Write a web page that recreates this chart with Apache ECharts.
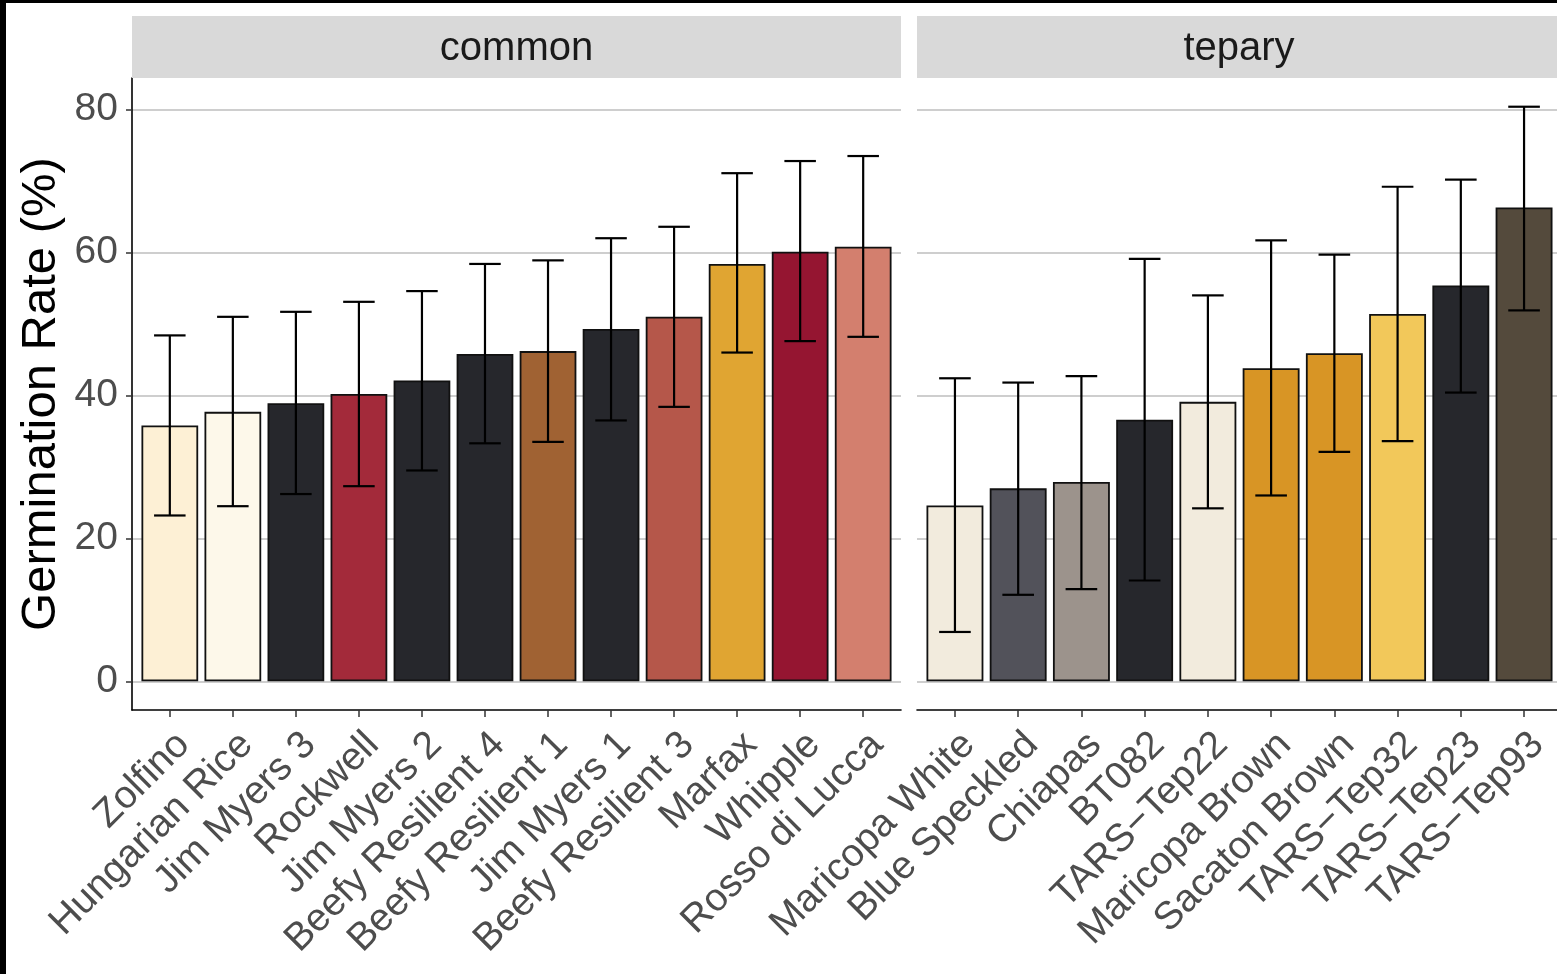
<!DOCTYPE html>
<html>
<head>
<meta charset="utf-8">
<title>Germination Rate by Variety</title>
<script src="https://cdn.jsdelivr.net/npm/echarts@6.0.0/dist/echarts.min.js"></script>
<style>
  html, body { margin: 0; padding: 0; background: #ffffff; }
  #chart { width: 1557px; height: 974px; }
</style>
</head>
<body>
<div id="chart"></div>
<script>
// ---- Data: germination rate (%) with error bar bounds, per bean species ----
const commonVarieties = ['Zolfino', 'Hungarian Rice', 'Jim Myers 3', 'Rockwell', 'Jim Myers 2',
  'Beefy Resilient 4', 'Beefy Resilient 1', 'Jim Myers 1', 'Beefy Resilient 3', 'Marfax',
  'Whipple', 'Rosso di Lucca'];
const commonMean  = [35.8, 37.7, 38.9, 40.2, 42.1, 45.8, 46.2, 49.3, 51.0, 58.4, 60.1, 60.8];
const commonLower = [23.2, 24.5, 26.2, 27.3, 29.5, 33.3, 33.5, 36.5, 38.4, 46.0, 47.6, 48.2];
const commonUpper = [48.4, 51.0, 51.7, 53.1, 54.6, 58.4, 58.9, 62.0, 63.6, 71.1, 72.8, 73.5];
const commonColors = ['#FDF0D5', '#FDF8EA', '#26272C', '#A32A3A', '#26272C', '#26272C',
  '#A06233', '#26272C', '#B5574A', '#E0A532', '#951531', '#D37F6E'];

const teparyVarieties = ['Maricopa White', 'Blue Speckled', 'Chiapas', 'BT082', 'TARS\u2212Tep22',
  'Maricopa Brown', 'Sacaton Brown', 'TARS\u2212Tep32', 'TARS\u2212Tep23', 'TARS\u2212Tep93'];
const teparyMean  = [24.6, 27.0, 27.9, 36.6, 39.1, 43.8, 45.9, 51.4, 55.4, 66.3];
const teparyLower = [6.9, 12.1, 12.9, 14.1, 24.2, 26.0, 32.1, 33.6, 40.4, 51.9];
const teparyUpper = [42.4, 41.8, 42.7, 59.1, 54.0, 61.7, 59.7, 69.2, 70.2, 80.4];
const teparyColors = ['#F2EBDD', '#52525A', '#9C938C', '#26272C', '#F2EBDD', '#D89525',
  '#D89525', '#F2C85A', '#26272C', '#544A3C'];

const panelTitles = ['common', 'tepary'];
const yTicks = [0, 20, 40, 60, 80];
const yTitle = 'Germination Rate (%)';

// ---- Layout ----
const W = 1557, H = 974;
const PANEL_TOP = 78, PANEL_BOTTOM = 710;
const STRIP_TOP = 16;
const panels = [
  { left: 132, width: 769 },
  { left: 917, width: 645 }
];
const FONT = 'Liberation Sans, Arial, Helvetica, sans-serif';
const TICK_FS = 39;

// shared y range, padded 5% beyond the data like ggplot's default expansion
const allUpper = commonUpper.concat(teparyUpper);
const yTop = Math.max(...allUpper);
const yMax = yTop * 1.05;
const yMin = -yTop * 0.05;

const chart = echarts.init(document.getElementById('chart'), null, { renderer: 'canvas' });

function barData(mean, colors) {
  return mean.map((v, i) => ({ value: [i, v], itemStyle: { color: colors[i] } }));
}
function errData(lower, upper) {
  return lower.map((lo, i) => [i, lo, upper[i]]);
}
function renderErrorBar(params, api) {
  const x = api.value(0);
  const lo = api.coord([x, api.value(1)]);
  const hi = api.coord([x, api.value(2)]);
  const half = api.size([0.25, 0])[0];
  const style = { stroke: '#000000', lineWidth: 2.2 };
  return {
    type: 'group',
    children: [
      { type: 'line', shape: { x1: lo[0], y1: lo[1], x2: hi[0], y2: hi[1] }, style },
      { type: 'line', shape: { x1: hi[0] - half, y1: hi[1], x2: hi[0] + half, y2: hi[1] }, style },
      { type: 'line', shape: { x1: lo[0] - half, y1: lo[1], x2: lo[0] + half, y2: lo[1] }, style }
    ]
  };
}

const names = [commonVarieties, teparyVarieties];
const grids = panels.map(p => ({
  left: p.left, top: PANEL_TOP, width: p.width, height: PANEL_BOTTOM - PANEL_TOP,
  containLabel: false, outerBoundsMode: 'none'
}));

const xAxes = names.map((cats, g) => {
  const idx = cats.map((_, i) => i);
  return {
    type: 'value', gridIndex: g, min: -0.6, max: cats.length - 0.4,
    axisLine: { show: true, onZero: false, lineStyle: { color: '#000000', width: 1.6 } },
    axisTick: { show: true, length: 7, customValues: idx, lineStyle: { color: '#333333', width: 1.5 } },
    splitLine: { show: false },
    axisLabel: {
      show: true, customValues: idx, rotate: 45, align: 'right', verticalAlign: 'top',
      margin: 15, fontSize: TICK_FS, color: '#4D4D4D', fontFamily: FONT,
      formatter: v => cats[Math.round(v)]
    }
  };
});

const yAxes = [0, 1].map(g => ({
  type: 'value', gridIndex: g, min: yMin, max: yMax,
  name: g === 0 ? yTitle : '',
  nameLocation: 'middle', nameGap: 66, nameRotate: 90,
  nameTextStyle: { fontSize: 49, color: '#000000', fontFamily: FONT },
  axisLine: { show: g === 0, onZero: false, lineStyle: { color: '#000000', width: 1.6 } },
  axisTick: { show: g === 0, length: 6, customValues: yTicks, lineStyle: { color: '#333333', width: 1.5 } },
  axisLabel: {
    show: g === 0, customValues: yTicks, margin: 14,
    fontSize: TICK_FS, color: '#4D4D4D', fontFamily: FONT
  },
  splitLine: { show: true, customValues: yTicks, lineStyle: { color: '#BEBEBE', width: 1.5 } }
}));

const series = [];
[[commonMean, commonColors, commonLower, commonUpper],
 [teparyMean, teparyColors, teparyLower, teparyUpper]].forEach((d, g) => {
  const band = panels[g].width / (names[g].length + 0.2);
  series.push({
    type: 'bar', xAxisIndex: g, yAxisIndex: g,
    barWidth: band * 0.9,
    data: barData(d[0], d[1]),
    itemStyle: { borderColor: '#111111', borderWidth: 1.8 },
    emphasis: { disabled: true },
    z: 2
  });
  series.push({
    type: 'custom', xAxisIndex: g, yAxisIndex: g,
    renderItem: renderErrorBar,
    data: errData(d[2], d[3]),
    z: 3, silent: true
  });
});

// facet strips and the dark frame along the top and left edges
const graphics = [];
panels.forEach((p, g) => {
  graphics.push({
    type: 'rect', left: p.left, top: STRIP_TOP, z: 1, silent: true,
    shape: { width: p.width, height: PANEL_TOP - STRIP_TOP },
    style: { fill: '#D9D9D9' }
  });
  graphics.push({
    type: 'text', z: 2, silent: true,
    x: p.left + Math.min(p.width, W - p.left) / 2 + (g === 1 ? 2 : 0),
    y: (STRIP_TOP + PANEL_TOP) / 2 + 2,
    style: {
      text: panelTitles[g], fontSize: TICK_FS + 1, fill: '#1A1A1A', fontFamily: FONT,
      align: 'center', verticalAlign: 'middle'
    }
  });
});
graphics.push({ type: 'rect', left: 0, top: 0, z: 10, silent: true, shape: { width: W, height: 3 }, style: { fill: '#000000' } });
graphics.push({ type: 'rect', left: 0, top: 0, z: 10, silent: true, shape: { width: 6, height: H }, style: { fill: '#000000' } });

chart.setOption({
  backgroundColor: '#ffffff',
  animation: false,
  textStyle: { fontFamily: FONT },
  grid: grids,
  xAxis: xAxes,
  yAxis: yAxes,
  series: series,
  graphic: graphics
});
</script>
</body>
</html>
